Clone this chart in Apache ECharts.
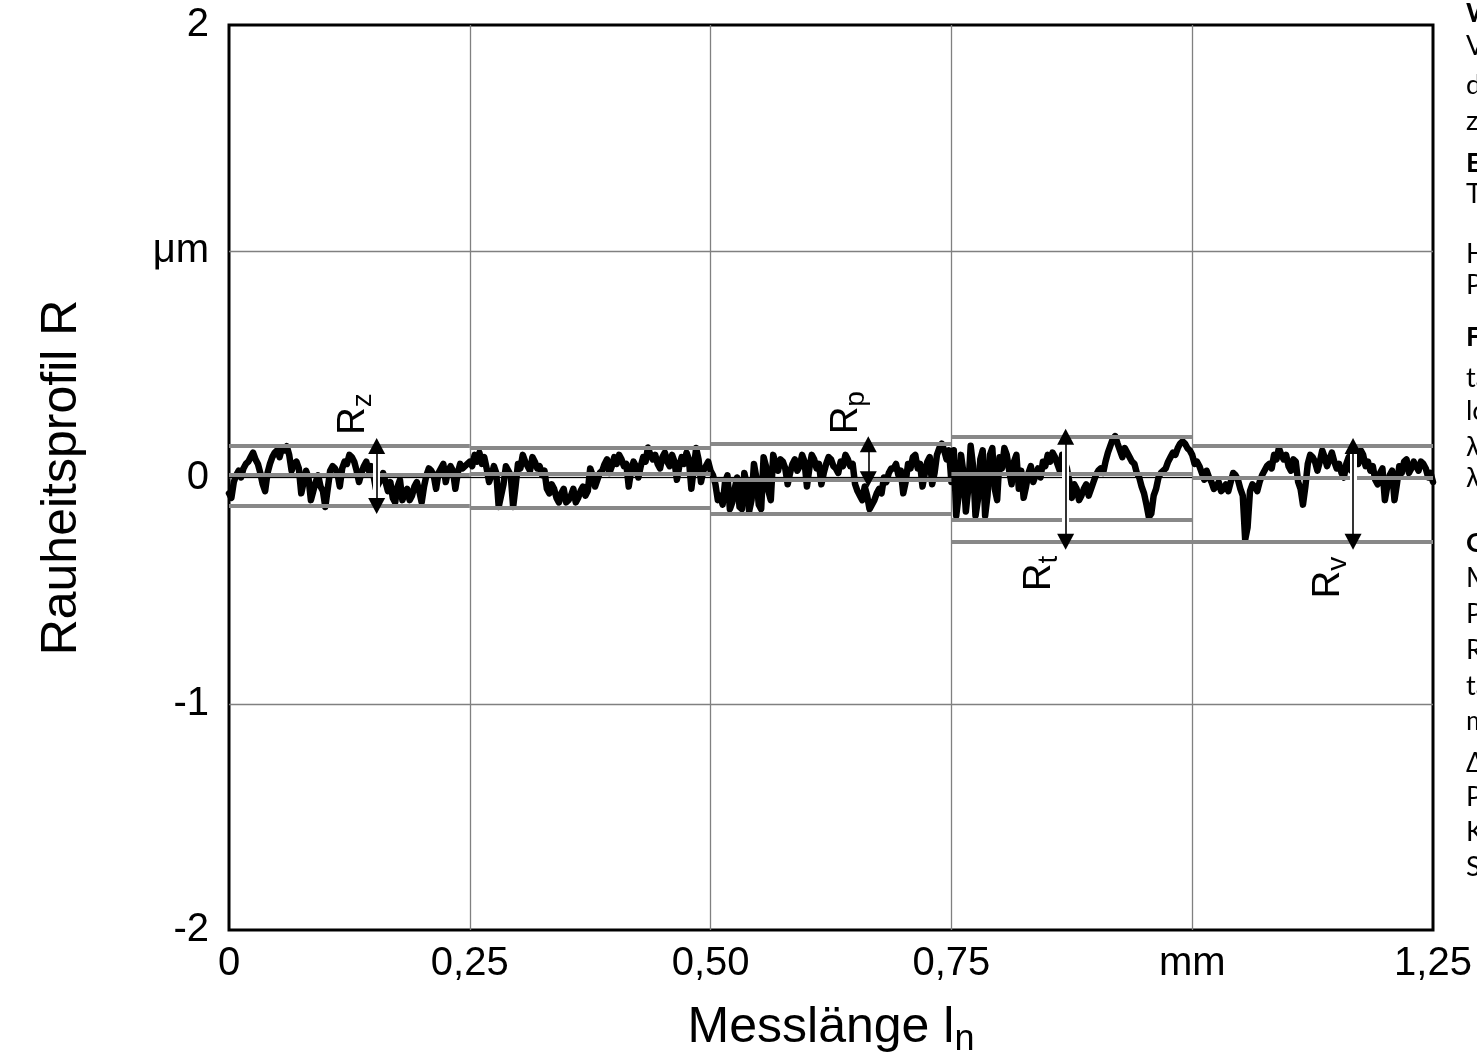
<!DOCTYPE html>
<html><head><meta charset="utf-8">
<script src="https://cdn.jsdelivr.net/npm/echarts@6/dist/echarts.min.js"></script>
<style>html,body{margin:0;padding:0;background:#fff}#c{width:1477px;height:1063px}</style>
</head><body><div id="c"></div>
<script>
// ---- data ----
const profileStep = 0.005; // mm between read-off samples
// profile value at x = i*step
const profileOnGrid = [
-0.07,-0.02,0.03,0.04,0.07,0.11,0.06,-0.03,0.02,0.09,
0.12,0.13,0.138,0.03,0.07,-0.07,0.03,-0.10,-0.02,-0.04,
-0.13,0.03,0.04,-0.04,0.07,0.10,0.07,-0.02,0.05,0.03,
0.01,-0.03,0.02,-0.06,-0.09,-0.04,-0.10,-0.05,-0.08,-0.02,
-0.11,0.01,0.03,-0.05,0.04,-0.02,0.05,-0.05,0.06,0.05,
0.07,
0.10,0.11,0.09,-0.02,0.05,-0.13,-0.03,0.03,-0.13,0.06,
0.10,0.05,0.09,0.04,0.01,-0.05,-0.03,-0.09,-0.07,-0.11,
-0.08,-0.11,-0.06,-0.08,0.04,-0.04,0.02,0.06,0.02,0.09,
0.10,0.05,-0.04,0.07,0.00,0.09,0.133,0.08,0.06,0.09,
0.07,0.10,-0.01,0.09,0.11,-0.05,0.13,-0.02,0.05,0.03,
-0.03,-0.08,-0.02,-0.14,-0.05,-0.13,0.02,-0.15,0.06,-0.12,
0.09,-0.06,0.10,0.03,0.07,-0.03,0.06,0.03,0.10,-0.04,
0.10,0.04,-0.03,0.06,0.08,0.04,0.07,0.10,0.05,-0.03,
-0.08,-0.04,-0.14,-0.10,-0.05,0.00,0.02,0.04,0.01,-0.07,
0.06,0.09,0.04,-0.04,0.07,-0.03,0.10,0.15,0.08,-0.02,
-0.17,0.10,-0.15,0.14,-0.17,0.08,-0.17,0.10,-0.05,0.09,
0.13,0.03,0.07,-0.05,-0.09,0.02,-0.02,0.04,0.07,0.10,
0.11,0.06,0.10,0.04,-0.09,-0.05,-0.08,-0.03,-0.05,0.01,
0.04,0.07,0.14,0.183,0.12,0.13,0.09,0.06,0.00,-0.07,
-0.175,-0.08,0.00,0.03,0.07,0.11,0.13,0.16,0.13,0.10,
0.07,0.02,0.03,-0.02,-0.04,-0.06,-0.03,-0.02,0.01,-0.05,
-0.275,-0.06,-0.04,-0.02,0.03,0.06,0.10,0.13,0.08,0.05,
0.08,-0.02,-0.12,0.06,0.09,0.03,0.12,0.05,0.11,0.04,
0.02,0.06,0.03,0.08,0.12,0.05,0.03,-0.01,0.02,-0.10,
0.01,-0.10,0.05,0.07,0.02,0.07,0.03,0.06,0.00,-0.02
];
// profile value at x = i*step + step/2
const profileBetween = [
-0.09,0.01,0.00,0.06,0.09,0.08,0.02,-0.06,0.06,0.11,
0.09,0.12,0.10,0.06,0.04,-0.02,0.00,-0.06,0.01,-0.06,
-0.05,0.05,0.02,0.04,0.06,0.09,0.03,0.02,0.07,0.05,
-0.05,-0.01,-0.02,-0.02,-0.11,-0.01,-0.07,-0.10,-0.04,-0.06,
-0.04,0.04,0.01,0.02,0.06,0.03,0.03,0.02,0.04,0.06,
0.05,0.07,0.06,0.04,0.01,0.02,-0.08,0.05,0.01,-0.04,
0.04,0.07,0.03,0.07,0.05,0.03,-0.07,-0.05,-0.11,-0.05,
-0.10,-0.05,-0.09,-0.04,-0.06,0.01,-0.01,0.03,0.08,0.05,
0.06,0.08,0.06,0.03,0.05,0.05,0.07,0.10,0.10,0.04,
0.11,0.05,0.07,0.05,0.06,0.08,0.04,0.08,0.03,0.07,
0.01,-0.10,-0.12,0.01,-0.11,0.00,-0.14,-0.03,-0.10,0.00,
-0.14,0.05,-0.10,0.06,0.08,0.04,0.02,0.08,0.05,0.07,
0.04,0.08,0.06,0.02,0.09,0.05,0.02,0.05,0.08,0.06,
-0.06,-0.10,-0.08,-0.12,-0.07,-0.07,-0.02,0.04,0.06,0.03,
-0.02,0.04,0.10,0.06,0.02,0.09,0.02,0.13,0.12,0.12,
0.12,-0.08,0.02,-0.05,0.05,-0.10,0.12,-0.08,0.13,-0.10,
0.04,0.10,-0.03,0.10,0.03,-0.04,0.05,0.01,0.00,0.05,
0.07,0.09,0.03,0.07,-0.02,-0.03,-0.10,-0.05,-0.08,-0.02,
0.03,0.02,0.11,0.17,0.15,0.09,0.11,0.07,0.02,-0.04,
-0.12,-0.16,-0.05,0.02,0.04,0.09,0.10,0.15,0.15,0.12,
0.06,0.05,-0.01,0.00,-0.05,-0.02,-0.05,-0.06,0.02,-0.01,
-0.08,-0.22,-0.03,-0.06,0.01,0.05,0.04,0.08,0.10,0.10,
0.03,0.07,-0.05,-0.04,0.10,0.07,0.07,0.09,0.08,0.07,
0.06,0.00,0.09,0.05,0.06,0.10,0.07,0.05,-0.03,0.04,
-0.04,0.03,-0.03,0.02,0.08,0.04,0.05,0.07,0.04,0.02
];
const segStart  = [0, 0.25, 0.5, 0.75, 1.0];
const segEnd    = [0.25, 0.5, 0.75, 1.0, 1.25];
const segPeak   = [0.139, 0.132, 0.147, 0.18, 0.139];
const segMean   = [0.01, 0.017, -0.008, 0.017, 0.0];
const segValley = [-0.126, -0.132, -0.16, -0.187, -0.284];
const rtExtStart = 0.75, rtExtEnd = 1.0, rtExtValue = -0.284;
const arrowX      = [0.1533, 0.6637, 0.8686, 1.167];
const arrowTop    = [0.139, 0.147, 0.18, 0.139];
const arrowBottom = [-0.126, -0.008, -0.284, -0.284];
const paramSub    = ['z', 'p', 't', 'v'];
const paramLabelX = [0.1295, 0.6406, 0.8415, 1.1415];
const paramLabelY = [0.281, 0.287, -0.424, -0.442];
const xTickLabels = ['0', '0,25', '0,50', '0,75', 'mm', '1,25'];
const yTickLabels = ['-2', '-1', '0', 'μm', '2'];
const sideLines = [
 ['Werte', true, 13], ['Vergleich', false, 46], ['der', false, 85], ['zu', false, 121],
 ['Erläuterung', true, 163], ['Text', false, 194], ['Höhe', false, 254], ['Profil', false, 285],
 ['Filter', true, 337], ['taster', false, 378], ['lc', false, 411], ['λc', false, 447], ['λs', false, 478],
 ['Charakter', true, 543], ['Messung', false, 578], ['Profil', false, 614], ['Rauheit', false, 650],
 ['tastung', false, 686], ['mittels', false, 721], ['Δ', false, 763], ['Profil', false, 797],
 ['Kenngröße', false, 832], ['Spitze', false, 867]
];

// ---- chart ----
const FONT = 'Liberation Sans, Arial, sans-serif';
const chart = echarts.init(document.getElementById('c'), null, {renderer: 'canvas'});
const profileData = [];
profileOnGrid.forEach((v, i) => {
  profileData.push([+(i * profileStep).toFixed(4), v]);
  if (i < profileBetween.length) profileData.push([+((i + 0.5) * profileStep).toFixed(4), profileBetween[i]]);
});

const greyLines = [];
for (let i = 0; i < segStart.length; i++) {
  [segPeak[i], segMean[i], segValley[i]].forEach(v => {
    greyLines.push([{coord: [segStart[i], v]}, {coord: [segEnd[i], v]}]);
  });
}
greyLines.push([{coord: [rtExtStart, rtExtValue]}, {coord: [rtExtEnd, rtExtValue]}]);

const arrowLines = arrowX.map((x, i) => [{coord: [x, arrowTop[i]]}, {coord: [x, arrowBottom[i]]}]);

const option = {
  backgroundColor: '#fff',
  animation: false,
  grid: {left: 229, right: 44, top: 25, bottom: 133, show: true, borderColor: '#000', borderWidth: 3, backgroundColor: 'transparent'},
  xAxis: {
    type: 'value', min: 0, max: 1.25, interval: 0.25,
    axisLine: {show: false}, axisTick: {show: false},
    splitLine: {show: true, showMinLine: false, showMaxLine: false, lineStyle: {color: '#808080', width: 1.3}},
    axisLabel: {color: '#000', fontSize: 40, fontFamily: FONT, margin: 14,
      formatter: v => xTickLabels[Math.round(v / 0.25)]},
    name: '{a|Messlänge l}{b|n}', nameLocation: 'middle', nameGap: 68,
    nameTextStyle: {rich: {
      a: {fontSize: 50, fontFamily: FONT, color: '#000', lineHeight: 60},
      b: {fontSize: 36, fontFamily: FONT, color: '#000', lineHeight: 36, verticalAlign: 'bottom'}
    }}
  },
  yAxis: {
    type: 'value', min: -2, max: 2, interval: 1,
    axisLine: {show: false}, axisTick: {show: false},
    splitLine: {show: true, showMinLine: false, showMaxLine: false, lineStyle: {color: '#808080', width: 1.3}},
    axisLabel: {color: '#000', fontSize: 40, fontFamily: FONT, margin: 20,
      formatter: v => yTickLabels[Math.round(v) + 2]},
    name: 'Rauheitsprofil R', nameLocation: 'middle', nameGap: 137,
    nameTextStyle: {fontSize: 50, fontFamily: FONT, color: '#000', lineHeight: 60}
  },
  series: [
    {type: 'line', data: [[0, 0], [1.25, 0]], symbol: 'none', silent: true, z: 1,
      lineStyle: {color: '#000', width: 1}},
    {type: 'line', data: profileData, symbol: 'none', z: 2,
      lineStyle: {color: '#000', width: 6.5, join: 'round', cap: 'round'}},
    {type: 'line', data: [[0, 0]], symbol: 'none', z: 3, lineStyle: {opacity: 0},
      markLine: {silent: true, symbol: 'none', label: {show: false}, animation: false,
        lineStyle: {color: '#888', width: 4, type: 'solid'}, data: greyLines}},
    {type: 'line', data: [[0, 0]], symbol: 'none', z: 4, lineStyle: {opacity: 0},
      markLine: {silent: true, symbol: 'none', label: {show: false}, animation: false,
        lineStyle: {color: '#fff', width: 7, type: 'solid'}, data: arrowLines}},
    {type: 'line', data: [[0, 0]], symbol: 'none', z: 5, lineStyle: {opacity: 0},
      markLine: {silent: true, symbol: ['triangle', 'triangle'], symbolSize: [17, 16], label: {show: false}, animation: false,
        lineStyle: {color: '#000', width: 1.6, type: 'solid'}, data: arrowLines}},
    {type: 'scatter', z: 6, symbolSize: 2, itemStyle: {color: 'rgba(0,0,0,0)'}, silent: true,
      data: paramSub.map((s, i) => ({value: [paramLabelX[i], paramLabelY[i]], sub: s})),
      label: {show: true, position: 'inside', rotate: 90, color: '#000', opacity: 1,
        formatter: p => '{r|R}{s|' + p.data.sub + '}',
        rich: {
          r: {fontSize: 38, fontFamily: FONT, color: '#000', lineHeight: 48},
          s: {fontSize: 28, fontFamily: FONT, color: '#000', lineHeight: 28, verticalAlign: 'bottom'}
        }}}
  ],
  graphic: sideLines.map(([t, b, y]) => ({
    type: 'text', x: 1466, y: y, silent: true,
    style: {text: t, fontSize: 27, fontFamily: 'Lato, Open Sans, sans-serif', fontWeight: b ? 'bold' : 'normal',
      fill: '#000', verticalAlign: 'middle', align: 'left'}
  }))
};
chart.setOption(option);
</script>
</body></html>
